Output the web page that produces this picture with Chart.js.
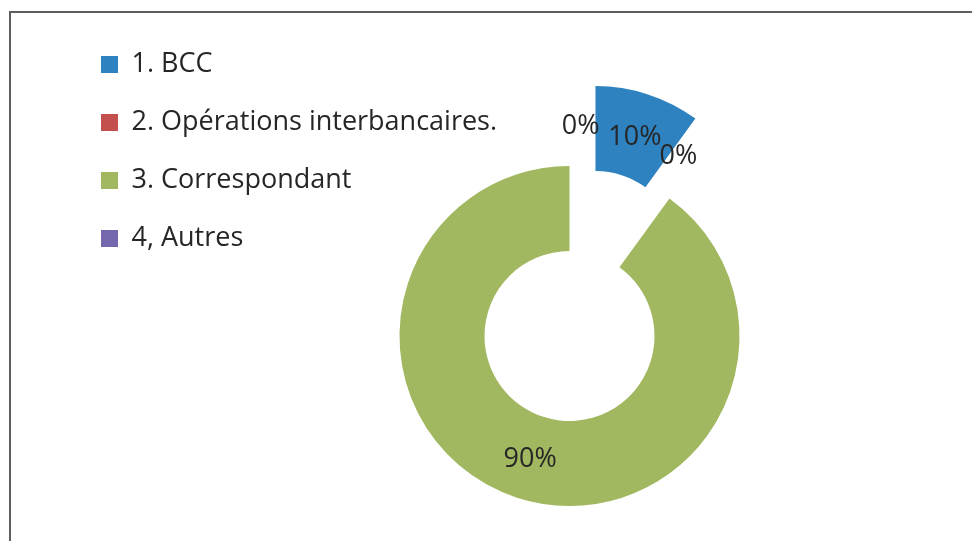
<!DOCTYPE html>
<html lang="fr">
<head>
<meta charset="utf-8">
<title>Répartition</title>
<script src="https://cdn.jsdelivr.net/npm/chart.js"></script>
<style>
  html, body { margin: 0; padding: 0; background: #fff; overflow: hidden; }
  /* cadre du graphique, plus grand que la fenêtre */
  .cadre {
    position: absolute; left: 9px; top: 11px;
    border-left: 2px solid #5e5e5e; border-top: 2px solid #5e5e5e;
    width: 1100px; height: 700px;
  }
  .zone { position: relative; margin-top: 7px; width: 1058px; height: 632px; }
</style>
</head>
<body>
<div class="cadre"><div class="zone"><canvas id="chart1"></canvas></div></div>
<script>
const categories = ['1. BCC', '2. Opérations interbancaires.', '3. Correspondant', '4, Autres'];
const parts = [10, 0, 90, 0];
const couleurs = ['#2e82bf', '#c4504e', '#a1b760', '#7566ad'];

// distance (px) de détachement de chaque part
const eclatement = [84, 84, 0, 84];
// petit décalage (degrés) des étiquettes des parts vides
const decalageEtiquette = [0, -5, 0, 3];

// dessine les arcs en les écartant du centre
const partsDetachees = {
    id: 'partsDetachees',
    beforeDatasetDraw(chart, args) {
        const ctx = chart.ctx;
        args.meta.data.forEach(function (arc, i) {
            const milieu = (arc.startAngle + arc.endAngle) / 2;
            ctx.save();
            ctx.translate(Math.cos(milieu) * eclatement[i], Math.sin(milieu) * eclatement[i]);
            arc.draw(ctx);
            ctx.restore();
        });
        return false;
    }
};

// pourcentages sur les parts
const etiquettes = {
    id: 'etiquettes',
    afterDatasetsDraw(chart) {
        const ctx = chart.ctx;
        const meta = chart.getDatasetMeta(0);
        const total = parts.reduce((a, b) => a + b, 0);
        ctx.save();
        ctx.font = '27px "Open Sans"';
        ctx.fillStyle = '#262626';
        ctx.textAlign = 'center';
        ctx.textBaseline = 'middle';
        meta.data.forEach(function (arc, i) {
            const angle = (arc.startAngle + arc.endAngle) / 2 + decalageEtiquette[i] * Math.PI / 180;
            const r = (arc.innerRadius + arc.outerRadius) / 2 + eclatement[i];
            const texte = Math.round(parts[i] / total * 100) + '%';
            ctx.fillText(texte, arc.x + Math.cos(angle) * r, arc.y + Math.sin(angle) * r + 2);
        });
        ctx.restore();
    }
};

document.addEventListener('DOMContentLoaded', function () {
    new Chart(document.getElementById('chart1'), {
        type: 'doughnut',
        data: {
            labels: categories,
            datasets: [{
                data: parts,
                backgroundColor: couleurs,
                borderWidth: 0
            }]
        },
        options: {
            responsive: true,
            maintainAspectRatio: false,
            animation: false,
            radius: 170,
            cutout: '50%',
            layout: { padding: { left: 59, top: 0, right: 0, bottom: 0 } },
            plugins: {
                legend: {
                    position: 'chartArea',
                    align: 'start',
                    labels: {
                        boxWidth: 17,
                        boxHeight: 17,
                        padding: 31,
                        color: '#262626',
                        font: { family: 'Open Sans', size: 27 }
                    }
                },
                tooltip: { enabled: false }
            }
        },
        plugins: [partsDetachees, etiquettes]
    });
});
</script>
</body>
</html>
